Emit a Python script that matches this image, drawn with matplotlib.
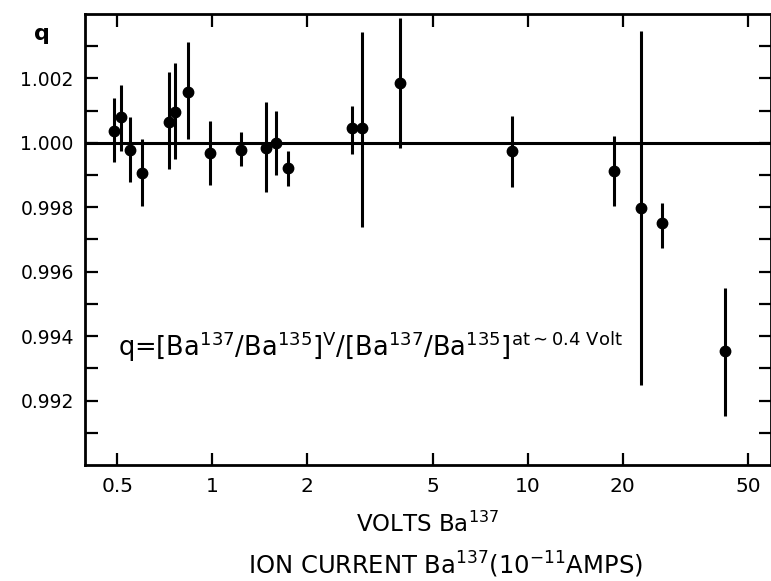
import numpy as np
import matplotlib
matplotlib.use("Agg")
import matplotlib.pyplot as plt

# values
volts = [0.49, 0.512, 0.547, 0.597, 0.731, 0.764, 0.84, 0.986, 1.235, 1.48,
         1.59, 1.74, 2.77, 2.98, 3.95, 8.93, 18.75, 22.8, 26.6, 42.1]
q = [1.00037, 1.0008, 0.99978, 0.99907, 1.00065, 1.00096, 1.00158, 0.99969,
     0.99978, 0.99985, 1.0000, 0.99923, 1.00046, 1.00046, 1.00186, 0.99975,
     0.99913, 0.99799, 0.99752, 0.99353]
q_hi = [1.00139, 1.0018, 1.0008, 1.00012, 1.0022, 1.00248, 1.00313, 1.00068,
        1.00034, 1.00127, 1.0010, 0.99975, 1.00114, 1.00344, 1.00387, 1.00084,
        1.0002, 1.00347, 0.99814, 0.99548]
q_lo = [0.99941, 0.99975, 0.99879, 0.99805, 0.9992, 0.9995, 1.00012, 0.9987,
        0.99929, 0.99848, 0.9990, 0.99867, 0.99966, 0.9974, 0.99984, 0.99864,
        0.99805, 0.99248, 0.99675, 0.99152]

x_ticks = [0.5, 1, 2, 5, 10, 20, 50]
x_ticklabels = ["0.5", "1", "2", "5", "10", "20", "50"]
y_ticks = [0.992, 0.994, 0.996, 0.998, 1.000, 1.002]
y_ticklabels = ["0.992", "0.994", "0.996", "0.998", "1.000", "1.002"]
y_minor = [0.991, 0.993, 0.995, 0.997, 0.999, 1.001, 1.003]

plt.rcParams['font.family'] = ['DejaVu Sans']
plt.rcParams['mathtext.fontset'] = 'dejavusans'

fig = plt.figure(figsize=(7.71, 5.81), dpi=100)
ax = fig.add_axes([0.1102, 0.1997, 0.8898, 0.7762])

q = np.array(q)
yerr = [q - np.array(q_lo), np.array(q_hi) - q]
ax.errorbar(volts, q, yerr=yerr, fmt='o', color='black', ms=7.5,
            elinewidth=2.2, capsize=0, zorder=3)
ax.axhline(1.000, color='black', lw=2.2, zorder=2)

ax.set_xscale('log')
ax.set_xlim(0.395, 59)
ax.set_ylim(0.9900, 1.0040)

ax.set_xticks(x_ticks)
ax.set_xticklabels(x_ticklabels)
ax.xaxis.set_minor_locator(matplotlib.ticker.NullLocator())
ax.set_yticks(y_ticks)
ax.set_yticklabels(y_ticklabels)
ax.set_yticks(y_minor, minor=True)

ax.tick_params(axis='both', which='both', direction='in', length=9, width=1.6,
               top=True, right=True, labelsize=13.5)
ax.tick_params(axis='x', pad=9, labelsize=14.5)
ax.tick_params(axis='y', pad=8)

for s in ax.spines.values():
    s.set_linewidth(2)

ax.text(-0.063, 0.955, "q", transform=ax.transAxes, fontsize=16,
        fontweight='bold', ha='center', va='center')

ax.text(0.048, 0.262,
        r"q=[Ba$^{137}$/Ba$^{135}$]$^{\mathrm{V}}$/[Ba$^{137}$/Ba$^{135}$]$^{\rm at\sim0.4\ Volt}$",
        transform=ax.transAxes, fontsize=18.5, ha='left', va='center')

fig.text(0.555, 0.098, r"VOLTS Ba$^{137}$", fontsize=16.5, ha='center', va='center')
fig.text(0.578, 0.027, r"ION CURRENT Ba$^{137}$(10$^{-11}$AMPS)", fontsize=17.5,
         ha='center', va='center')

fig.savefig("out.png", dpi=100)
